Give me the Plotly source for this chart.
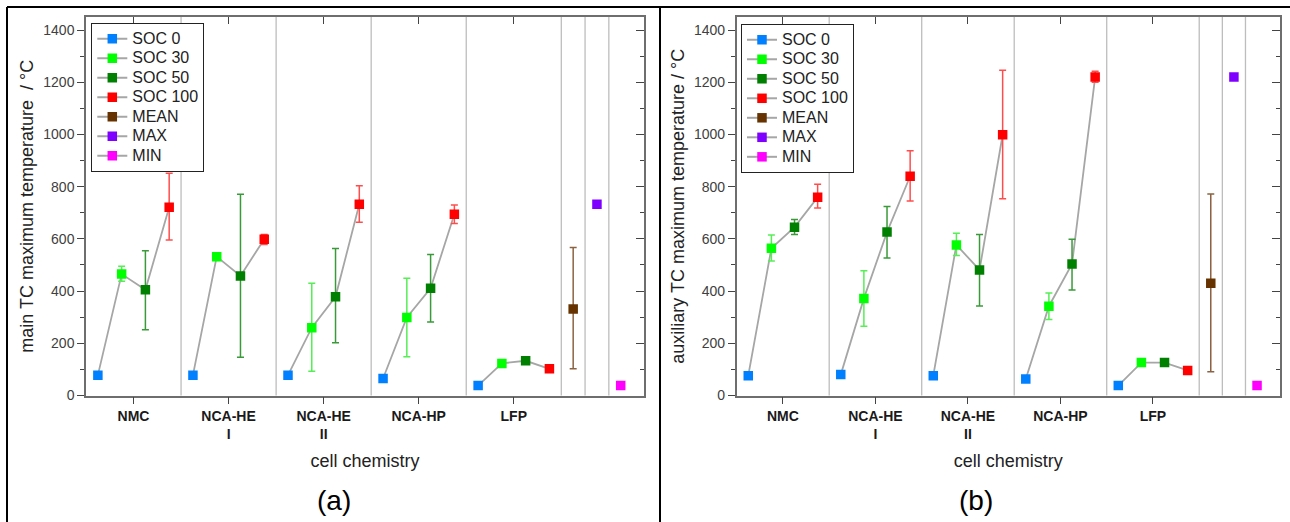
import plotly.graph_objects as go

# ---------------- data ----------------
categories = ["NMC", "NCA-HE<br>I", "NCA-HE<br>II", "NCA-HP", "LFP"]
cat_pos = [1, 2, 3, 4, 5]
soc_offsets = [-0.375, -0.125, 0.125, 0.375]
extra_pos = {"MEAN": 5.625, "MAX": 5.875, "MIN": 6.125}
dividers = [1.5, 2.5, 3.5, 4.5, 5.5, 5.75, 6.0]

series_names = ["SOC 0", "SOC 30", "SOC 50", "SOC 100", "MEAN", "MAX", "MIN"]
series_colors = ["#0080ff", "#00ff00", "#008000", "#ff0000", "#663300", "#8000ff", "#ff00ff"]
err_colors = ["#0080ff", "#55ee55", "#3a9a3a", "#ff4d4d", "#8b6342", "#8000ff", "#ff00ff"]

# panel (a): main TC maximum temperature (°C)
a_soc0 = [78, 78, 78, 65, 38]
a_soc30 = [465, 532, 260, 299, 123]
a_soc30_hi = [495, None, 430, 449, None]
a_soc30_lo = [438, None, 93, 148, None]
a_soc50 = [405, 458, 378, 411, 133]
a_soc50_hi = [555, 771, 563, 540, None]
a_soc50_lo = [252, 147, 202, 282, None]
a_soc100 = [721, 599, 733, 694, 102]
a_soc100_hi = [851, 617, 804, 730, None]
a_soc100_lo = [596, 578, 664, 659, None]
a_mean, a_mean_hi, a_mean_lo = 331, 567, 102
a_max = 733
a_min = 38

# panel (b): auxiliary TC maximum temperature (°C)
b_soc0 = [76, 80, 76, 63, 38]
b_soc30 = [564, 372, 577, 342, 126]
b_soc30_hi = [615, 478, 622, 393, None]
b_soc30_lo = [515, 265, 536, 291, None]
b_soc50 = [645, 626, 481, 504, 126]
b_soc50_hi = [674, 724, 617, 599, None]
b_soc50_lo = [617, 527, 343, 404, None]
b_soc100 = [759, 840, 999, 1220, 96]
b_soc100_hi = [809, 938, 1246, 1242, None]
b_soc100_lo = [718, 745, 754, 1200, None]
b_mean, b_mean_hi, b_mean_lo = 430, 772, 91
b_max = 1220
b_min = 38

y_ticks = [0, 200, 400, 600, 800, 1000, 1200, 1400]
y_minor = [100, 300, 500, 700, 900, 1100, 1300]
y_range = [0, 1450]
x_range = [0.5, 6.37]

FONT = "Liberation Sans, Arial, Helvetica, sans-serif"
W, H = 1290, 522
LINE_GRAY = "#a6a6a6"
MSIZE = 9.5

fig = go.Figure()


def up(vals, hi):
    return [None if h is None else h - v for v, h in zip(vals, hi)]


def down(vals, lo):
    return [None if l is None else v - l for v, l in zip(vals, lo)]


def add_panel(xa, ya, legend, soc, hi, lo, mean, mean_hi, mean_lo, vmax, vmin):
    # connecting gray lines inside each category
    for i, c in enumerate(cat_pos):
        fig.add_trace(go.Scatter(
            x=[c + o for o in soc_offsets], y=[s[i] for s in soc],
            mode="lines", line=dict(color=LINE_GRAY, width=1.8),
            xaxis=xa, yaxis=ya, showlegend=False, hoverinfo="skip"))
    # SOC markers with error bars
    for k in range(4):
        xs = [c + soc_offsets[k] for c in cat_pos]
        tr = dict(x=xs, y=soc[k], mode="markers",
                  marker=dict(symbol="square", size=MSIZE, color=series_colors[k],
                              line=dict(width=0)),
                  xaxis=xa, yaxis=ya, showlegend=False, name=series_names[k])
        if hi[k] is not None:
            tr["error_y"] = dict(type="data", symmetric=False,
                                 array=up(soc[k], hi[k]), arrayminus=down(soc[k], lo[k]),
                                 color=err_colors[k], thickness=1.5, width=3.5)
        fig.add_trace(go.Scatter(**tr))
    # MEAN / MAX / MIN
    fig.add_trace(go.Scatter(
        x=[extra_pos["MEAN"]], y=[mean], mode="markers",
        marker=dict(symbol="square", size=MSIZE, color=series_colors[4]),
        error_y=dict(type="data", symmetric=False, array=[mean_hi - mean],
                     arrayminus=[mean - mean_lo], color=err_colors[4], thickness=1.5, width=3.5),
        xaxis=xa, yaxis=ya, showlegend=False, name="MEAN"))
    fig.add_trace(go.Scatter(
        x=[extra_pos["MAX"]], y=[vmax], mode="markers",
        marker=dict(symbol="square", size=MSIZE, color=series_colors[5]),
        xaxis=xa, yaxis=ya, showlegend=False, name="MAX"))
    fig.add_trace(go.Scatter(
        x=[extra_pos["MIN"]], y=[vmin], mode="markers",
        marker=dict(symbol="square", size=MSIZE, color=series_colors[6]),
        xaxis=xa, yaxis=ya, showlegend=False, name="MIN"))
    # legend entries (text drawn larger than the legend font to keep rows ~20 px apart)
    for name, col in zip(series_names, series_colors):
        fig.add_trace(go.Scatter(
            x=[None], y=[None], mode="lines+markers",
            name=f"<span style='font-size:16px'>{name}</span>",
            line=dict(color=LINE_GRAY, width=2),
            marker=dict(symbol="square", size=MSIZE, color=col),
            xaxis=xa, yaxis=ya, legend=legend))
    # vertical separators
    for d in dividers:
        fig.add_shape(type="line", xref=xa, yref=ya + " domain", x0=d, x1=d, y0=0, y1=1,
                      line=dict(color="#bdbdbd", width=1.3), layer="below")


add_panel("x", "y", "legend",
          [a_soc0, a_soc30, a_soc50, a_soc100],
          [None, a_soc30_hi, a_soc50_hi, a_soc100_hi],
          [None, a_soc30_lo, a_soc50_lo, a_soc100_lo],
          a_mean, a_mean_hi, a_mean_lo, a_max, a_min)
add_panel("x2", "y2", "legend2",
          [b_soc0, b_soc30, b_soc50, b_soc100],
          [None, b_soc30_hi, b_soc50_hi, b_soc100_hi],
          [None, b_soc30_lo, b_soc50_lo, b_soc100_lo],
          b_mean, b_mean_hi, b_mean_lo, b_max, b_min)

# dummy traces for mirror axes (top / right with inward ticks)
for xa, ya in (("x3", "y3"), ("x4", "y4")):
    fig.add_trace(go.Scatter(x=[None], y=[None], xaxis=xa, yaxis=ya,
                             showlegend=False, hoverinfo="skip"))

dom_a = [86 / W, 644 / W]
dom_b = [736.7 / W, 1279.7 / W]
dom_y = [(H - 395.5) / H, (H - 17) / H]

AX_LINE = "#6e6e6e"
TICK_COL = "#444444"


def xaxis_main(domain, anchor):
    return dict(domain=domain, range=x_range, anchor=anchor,
                tickmode="array", tickvals=cat_pos,
                ticktext=[f"<b>{c}</b>" for c in categories],
                ticks="outside", ticklen=7, tickwidth=1.3, tickcolor=TICK_COL,
                showline=True, linecolor=AX_LINE, linewidth=1.5,
                showgrid=False, zeroline=False, automargin=False,
                tickfont=dict(family=FONT, size=14, color="#1a1a1a"),
                title=dict(text="cell chemistry", font=dict(family=FONT, size=18, color="#222222"),
                           standoff=13))


def yaxis_main(domain, anchor, title):
    return dict(domain=domain, range=y_range, anchor=anchor,
                tickmode="array", tickvals=y_ticks,
                ticks="outside", ticklen=7, tickwidth=1.3, tickcolor=TICK_COL,
                minor=dict(tickmode="array", tickvals=y_minor,
                           ticks="outside", ticklen=4, tickwidth=1.2, tickcolor=TICK_COL,
                           showgrid=False),
                showline=True, linecolor=AX_LINE, linewidth=1.5,
                showgrid=False, zeroline=False, automargin=False,
                tickfont=dict(family=FONT, size=14, color="#404040"),
                title=dict(text=title, font=dict(family=FONT, size=18, color="#222222"),
                           standoff=5))


def xaxis_top(over, anchor):
    return dict(overlaying=over, anchor=anchor, side="top", range=x_range,
                tickmode="array", tickvals=cat_pos, showticklabels=False,
                ticks="inside", ticklen=7, tickwidth=1.3, tickcolor=TICK_COL,
                showline=True, linecolor=AX_LINE, linewidth=1.5,
                showgrid=False, zeroline=False)


def yaxis_right(over, anchor):
    return dict(overlaying=over, anchor=anchor, side="right", range=y_range,
                tickmode="array", tickvals=y_ticks, showticklabels=False,
                ticks="inside", ticklen=8, tickwidth=1.3, tickcolor=TICK_COL,
                minor=dict(tickmode="array", tickvals=y_minor,
                           ticks="inside", ticklen=4, tickwidth=1.2, tickcolor=TICK_COL,
                           showgrid=False),
                showline=True, linecolor=AX_LINE, linewidth=1.5,
                showgrid=False, zeroline=False)


legend_style = dict(xanchor="left", yanchor="top", bgcolor="white",
                    bordercolor="#222222", borderwidth=1,
                    font=dict(family=FONT, size=12.7, color="#222222"),
                    itemwidth=30, tracegroupgap=0)

fig.update_layout(
    width=W, height=H,
    margin=dict(l=0, r=0, t=0, b=0, pad=0),
    paper_bgcolor="white", plot_bgcolor="white",
    font=dict(family=FONT),
    xaxis=xaxis_main(dom_a, "y"),
    yaxis=yaxis_main(dom_y, "x", "main TC maximum temperature\u00a0\u00a0/ °C"),
    xaxis2=xaxis_main(dom_b, "y2"),
    yaxis2=yaxis_main(dom_y, "x2", "auxiliary TC maximum temperature / °C"),
    xaxis3=xaxis_top("x", "y"),
    yaxis3=yaxis_right("y", "x"),
    xaxis4=xaxis_top("x2", "y2"),
    yaxis4=yaxis_right("y2", "x2"),
    legend=dict(x=91.3 / W, y=1 - 23 / H, **legend_style),
    legend2=dict(x=741 / W, y=1 - 24 / H, **legend_style),
    showlegend=True,
)

# panel frames
frame = dict(color="black", width=2)
fig.add_shape(type="line", xref="paper", yref="paper", x0=7 / W, x1=1, y0=1 - 7 / H, y1=1 - 7 / H, line=frame)
fig.add_shape(type="line", xref="paper", yref="paper", x0=7 / W, x1=7 / W, y0=0, y1=1 - 7 / H, line=frame)
fig.add_shape(type="line", xref="paper", yref="paper", x0=660 / W, x1=660 / W, y0=0, y1=1 - 7 / H, line=frame)

# panel labels
for txt, xp in (("(a)", 334), ("(b)", 976)):
    fig.add_annotation(text=txt, x=xp / W, y=1 - 500 / H, xref="paper", yref="paper",
                       xanchor="center", yanchor="middle", showarrow=False,
                       font=dict(family=FONT, size=28, color="black"))

# remove the browser's default 8px page margin so the figure sits at (0, 0)
fig.write_html("out.html", config={"displayModeBar": False},
               post_script="document.body.style.margin='0';")
